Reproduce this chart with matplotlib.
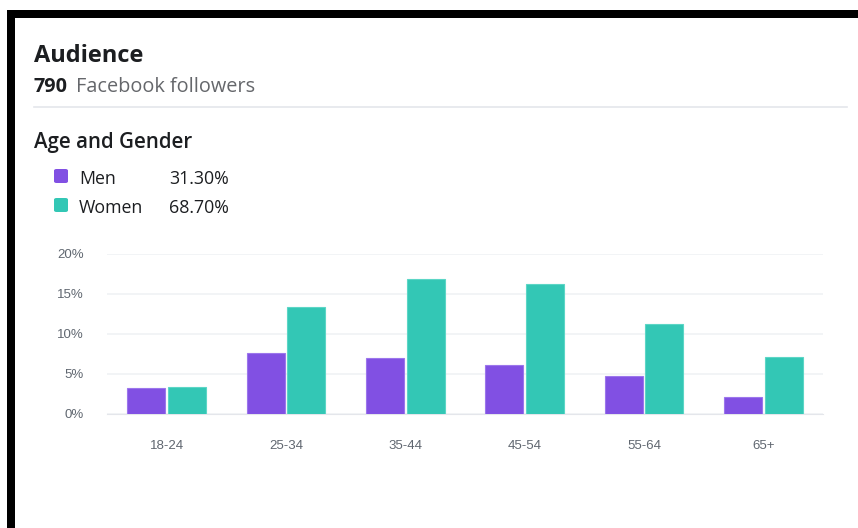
"""
Facebook audience card: age and gender split of followers.
"""

import matplotlib
matplotlib.use("Agg")
import matplotlib.pyplot as plt
import numpy as np
from matplotlib.patches import Rectangle, FancyBboxPatch

# data
age_groups = ["18-24", "25-34", "35-44", "45-54", "55-64", "65+"]
men = [3.2, 7.6, 7.0, 6.1, 4.8, 2.1]
women = [3.4, 13.4, 16.9, 16.2, 11.2, 7.1]
y_ticks = [0, 5, 10, 15, 20]
followers = 790
men_share = "31.30%"
women_share = "68.70%"

COLOR_MEN = "#8150E3"
COLOR_WOMEN = "#33C7B5"
TEXT_DARK = "#1C1E21"
TEXT_GREY = "#65676B"
TICK_GREY = "#606770"

W, H = 858, 528
UI_FONT = ["Open Sans", "DejaVu Sans"]
TICK_FONT = ["Liberation Sans", "DejaVu Sans"]


def px(x, y):
    """pixel position (from top left) -> figure fraction"""
    return x / W, 1 - y / H


fig = plt.figure(figsize=(W / 100, H / 100), dpi=100)
fig.patch.set_facecolor("white")

# black frame on the top and left edges
fig.add_artist(Rectangle(px(7, 528), 8 / W, (528 - 10) / H,
                         transform=fig.transFigure, color="black", lw=0))
fig.add_artist(Rectangle(px(7, 18), (W - 7) / W, 8 / H,
                         transform=fig.transFigure, color="black", lw=0))

# header
fig.text(*px(34, 62), "Audience", fontsize=17, fontweight="bold",
         color=TEXT_DARK, family=UI_FONT, va="baseline")
fig.text(*px(34, 92), str(followers), fontsize=14.3, fontweight="bold",
         color=TEXT_DARK, family=UI_FONT, va="baseline")
fig.text(*px(76, 92), "Facebook followers", fontsize=14.3,
         color=TEXT_GREY, family=UI_FONT, va="baseline")
fig.add_artist(plt.Line2D([34 / W, 847 / W], [1 - 107 / H] * 2,
                          transform=fig.transFigure, color="#E4E6EB", lw=1.2))

fig.text(*px(34, 148), "Age and Gender", fontsize=14.8, fontweight="semibold",
         color=TEXT_DARK, family=UI_FONT, va="baseline")

# legend rows
for (label, share, color, top, base) in [
    ("Men", men_share, COLOR_MEN, 169, 184),
    ("Women", women_share, COLOR_WOMEN, 198, 213),
]:
    x0, y0 = px(54, top + 14)
    fig.add_artist(FancyBboxPatch((x0, y0), 14 / W, 14 / H,
                                  boxstyle="round,pad=0,rounding_size=0.003",
                                  transform=fig.transFigure, color=color, lw=0))
    fig.text(*px(79, base), label, fontsize=12.8, color=TEXT_DARK,
             family=UI_FONT, va="baseline")
    fig.text(*px(229, base), share, fontsize=12.8, color=TEXT_DARK,
             family=UI_FONT, va="baseline", ha="right")

# bar chart
ax = fig.add_axes([107 / W, 114 / H, (823 - 107) / W, (414 - 254) / H])
x = np.arange(len(age_groups))
bw = 0.32
ax.bar(x - 0.171, men, bw, color=COLOR_MEN, edgecolor="#9C76EC", lw=0.8, zorder=3)
ax.bar(x + 0.171, women, bw, color=COLOR_WOMEN, edgecolor="#5CD6C6", lw=0.8, zorder=3)

ax.set_xlim(-0.5, len(age_groups) - 0.5)
ax.set_ylim(0, 20)
ax.set_xticks(x)
ax.set_xticklabels(age_groups)
ax.set_yticks(y_ticks)
ax.set_yticklabels([f"{t}%" for t in y_ticks])
ax.tick_params(length=0, labelsize=9.5, colors=TICK_GREY)
ax.tick_params(axis="x", pad=19)
ax.tick_params(axis="y", pad=16.5)
for lab in ax.get_xticklabels() + ax.get_yticklabels():
    lab.set_family(TICK_FONT)

ax.yaxis.grid(True, color="#F0F2F5", lw=1.2, zorder=0)
ax.set_axisbelow(True)
for s in ["top", "right", "left"]:
    ax.spines[s].set_visible(False)
ax.spines["bottom"].set_color("#E4E6EB")
ax.set_facecolor("white")

fig.savefig("out.png", dpi=100, facecolor="white")
